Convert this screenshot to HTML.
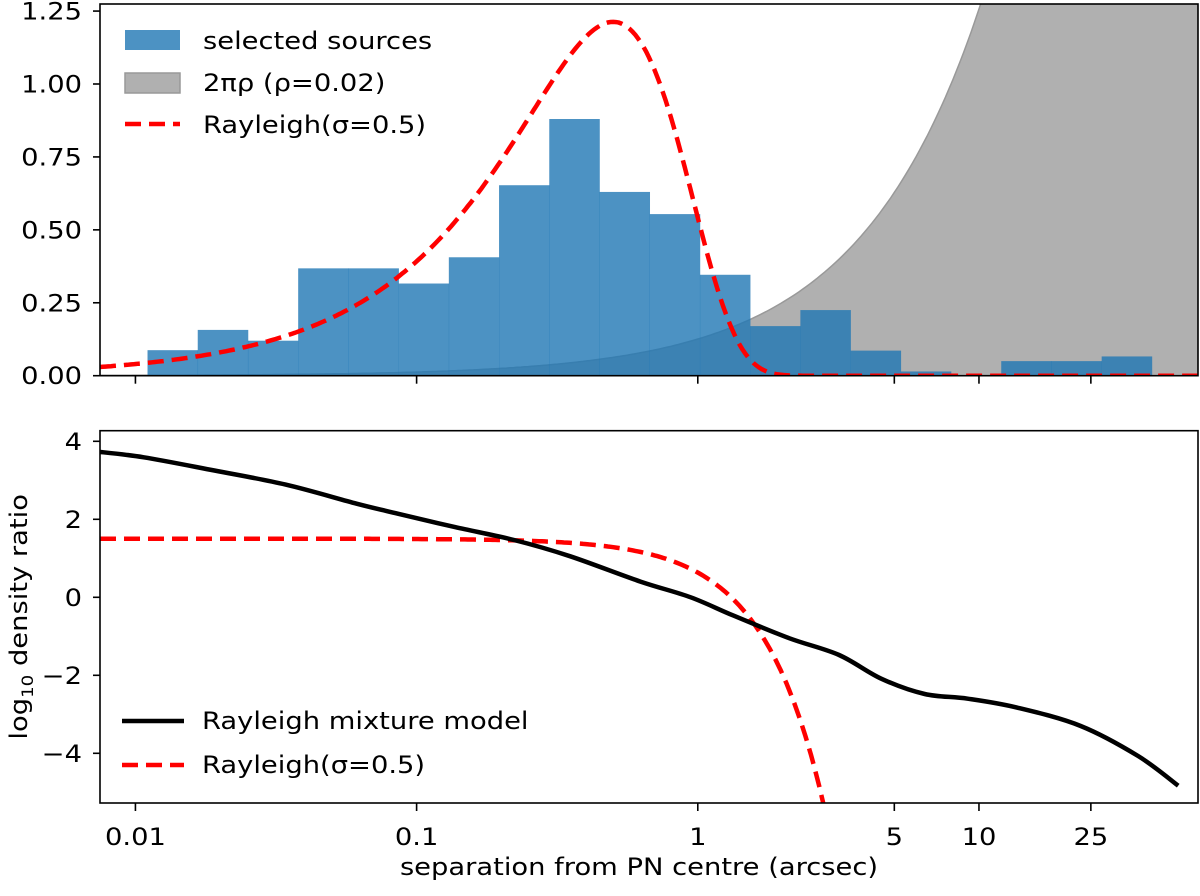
<!DOCTYPE html>
<html><head><meta charset="utf-8"><style>
body{margin:0;background:#fff}
svg text{font-family:"DejaVu Sans","Liberation Sans",sans-serif;fill:#000}
</style></head><body>
<svg id="c" width="1200" height="891" viewBox="0 0 1200 891" xmlns="http://www.w3.org/2000/svg"></svg>
<script>
// ---- data ----
const binStartLog = -1.957;           // log10 of first bin edge
const binWidthLog = 0.1786;           // bin width in decades
const histValues = [0.0875,0.157,0.12,0.368,0.368,0.316,0.406,0.653,0.88,0.63,0.554,0.346,0.17,0.225,0.086,0.0145,0,0.05,0.05,0.066];
const rho = 0.02;
const sigma = 0.5;
const mixR = [0.0072,0.0107,0.0191,0.0342,0.0612,0.0861,0.137,0.222,0.352,0.627,0.944,1.34,2.12,3.18,4.50,6.41,9.12,13.7,23.0,36.8,51.1];
const mixV = [3.74,3.59,3.25,2.89,2.40,2.14,1.80,1.47,1.05,0.40,0.0,-0.47,-1.05,-1.48,-2.09,-2.48,-2.60,-2.83,-3.30,-4.07,-4.83];
const topTicks = [0,0.25,0.5,0.75,1.0,1.25];
const topTickLabels = ["0.00","0.25","0.50","0.75","1.00","1.25"];
const botTicks = [-4,-2,0,2,4];
const botTickLabels = ["\u22124","\u22122","0","2","4"];
const xTicks = [0.01,0.1,1,5,10,25];
const xTickLabels = ["0.01","0.1","1","5","10","25"];

// ---- axes ----
const X0=100, X1=1198, LMIN=-2.126, LMAX=1.779;
const xs = r => X0 + (Math.log10(r)-LMIN)/(LMAX-LMIN)*(X1-X0);
const xl = l => X0 + (l-LMIN)/(LMAX-LMIN)*(X1-X0);
const T0=375.7, TPX=291.7;
const yt = v => T0 - v*TPX;
const TTOP=4;
const B0=597.3, BPX=39.0;
const yb = v => B0 - v*BPX;
const BTOP=430.7, BBOT=803;
const FS=24, SX=1.14;

const svg=document.getElementById('c');
const NS='http://www.w3.org/2000/svg';
function mk(tag,attrs,parent){const e=document.createElementNS(NS,tag);for(const k in attrs)e.setAttribute(k,attrs[k]);(parent||svg).appendChild(e);return e;}
function txt(x,y,s,anchor,parent){const t=mk('text',{x:0,y:0,'text-anchor':anchor||'start','font-size':FS,transform:`translate(${x},${y}) scale(${SX},1)`},parent);t.textContent=s;return t;}

const defs=mk('defs',{});
const c1=mk('clipPath',{id:'clipTop'},defs); mk('rect',{x:X0,y:TTOP,width:X1-X0,height:T0-TTOP},c1);
const c2=mk('clipPath',{id:'clipBot'},defs); mk('rect',{x:X0,y:BTOP,width:X1-X0,height:BBOT-BTOP},c2);

// ---- top panel ----
const gTop=mk('g',{'clip-path':'url(#clipTop)'});


let d='M'+X0+','+T0;
for(let i=0;i<=300;i++){const l=LMIN+(LMAX-LMIN)*i/300;const r=Math.pow(10,l);d+=' L'+xl(l).toFixed(1)+','+yt(2*Math.PI*rho*r).toFixed(1);}
d+=' L'+X1+','+T0+' Z';
const bg=mk('path',{d:d,fill:'#b0b0b0',stroke:'#999',"stroke-width":1.5},gTop);


histValues.forEach((v,i)=>{
  const l0=binStartLog+i*binWidthLog, l1=l0+binWidthLog;
  if(v<=0) return;
  const r=mk('rect',{x:xl(l0),y:yt(v),width:xl(l1)-xl(l0)+0.3,height:T0-yt(v),fill:'#1f77b4','fill-opacity':0.8},gTop);
  
  
});
let pr='';
for(let i=0;i<=400;i++){const l=LMIN+(LMAX-LMIN)*i/400;const r=Math.pow(10,l);const v=r/(sigma*sigma)*Math.exp(-r*r/(2*sigma*sigma));pr+=(i?' L':'M')+xl(l).toFixed(1)+','+yt(v).toFixed(1);}
const ray=mk('path',{d:pr,fill:'none',stroke:'#ff0000','stroke-width':4.5,'stroke-dasharray':'16,8'},gTop);



const f1=mk('rect',{x:X0,y:TTOP,width:X1-X0,height:T0-TTOP,fill:'none',stroke:'#000','stroke-width':1.6});


topTicks.forEach((t,i)=>{
  mk('line',{x1:X0-7,x2:X0,y1:yt(t),y2:yt(t),stroke:'#000','stroke-width':1.6});
  const tx=txt(X0-18,yt(t)+8.5,topTickLabels[i],'end');
  
  
});
xTicks.forEach(t=>{mk('line',{x1:xs(t),x2:xs(t),y1:T0,y2:T0+8,stroke:'#000','stroke-width':1.6});});

const lg1=mk('g',{});


mk('rect',{x:125,y:30,width:55,height:20,fill:'#1f77b4','fill-opacity':0.8},lg1);
mk('rect',{x:125,y:73,width:55,height:20,fill:'#b0b0b0',stroke:'#999','stroke-width':1.5},lg1);
mk('line',{x1:125,x2:180,y1:124,y2:124,stroke:'#ff0000','stroke-width':4.5,'stroke-dasharray':'16,8'},lg1);
[['selected sources',49],['2\u03c0\u03c1 (\u03c1=0.02)',91],['Rayleigh(\u03c3=0.5)',133]].forEach(([s,y])=>{
  const t=txt(203,y,s,'start',lg1);
  
  
});

// ---- bottom panel ----
const gBot=mk('g',{'clip-path':'url(#clipBot)'});


let pb='';
for(let i=0;i<=400;i++){const l=LMIN+(LMAX-LMIN)*i/400;const r=Math.pow(10,l);const v=Math.log10((1/(sigma*sigma))*Math.exp(-r*r/(2*sigma*sigma))/(2*Math.PI*rho));pb+=(i?' L':'M')+xl(l).toFixed(1)+','+Math.min(yb(v),BBOT+50).toFixed(1);}
const ray2=mk('path',{d:pb,fill:'none',stroke:'#ff0000','stroke-width':4.5,'stroke-dasharray':'16,8'},gBot);


function smooth(pts){let s='M'+pts[0][0]+','+pts[0][1];for(let i=0;i<pts.length-1;i++){const p0=pts[Math.max(i-1,0)],p1=pts[i],p2=pts[i+1],p3=pts[Math.min(i+2,pts.length-1)];const c1x=p1[0]+(p2[0]-p0[0])/6,c1y=p1[1]+(p2[1]-p0[1])/6,c2x=p2[0]-(p3[0]-p1[0])/6,c2y=p2[1]-(p3[1]-p1[1])/6;s+=` C${c1x.toFixed(1)},${c1y.toFixed(1)} ${c2x.toFixed(1)},${c2y.toFixed(1)} ${p2[0].toFixed(1)},${p2[1].toFixed(1)}`;}return s;}
const mpts=mixR.map((r,i)=>[xs(r),yb(mixV[i])]);
const mix=mk('path',{d:smooth(mpts),fill:'none',stroke:'#000','stroke-width':4.5},gBot);



const f2=mk('rect',{x:X0,y:BTOP,width:X1-X0,height:BBOT-BTOP,fill:'none',stroke:'#000','stroke-width':1.6});


botTicks.forEach((t,i)=>{
  mk('line',{x1:X0-7,x2:X0,y1:yb(t),y2:yb(t),stroke:'#000','stroke-width':1.6});
  const tx=txt(X0-18,yb(t)+8.5,botTickLabels[i],'end');
  
  
});
xTicks.forEach((t,i)=>{
  mk('line',{x1:xs(t),x2:xs(t),y1:BBOT,y2:BBOT+8,stroke:'#000','stroke-width':1.6});
  const tx=txt(xs(t),BBOT+42,xTickLabels[i],'middle');
  
  
});
const xt=txt((X0+X1)/2-10,875,'separation from PN centre (arcsec)','middle');


const yl=mk('text',{x:0,y:0,'text-anchor':'middle','font-size':FS,transform:`translate(27,${(BTOP+BBOT)/2}) rotate(-90) scale(${SX},1)`});
yl.innerHTML='log<tspan font-size="16" dy="6">10</tspan><tspan dy="-6"> density ratio</tspan>';



const lg2=mk('g',{});


mk('line',{x1:122,x2:184,y1:721,y2:721,stroke:'#000','stroke-width':4.5},lg2);
mk('line',{x1:122,x2:184,y1:765,y2:765,stroke:'#ff0000','stroke-width':4.5,'stroke-dasharray':'16,8'},lg2);
[['Rayleigh mixture model',729],['Rayleigh(\u03c3=0.5)',773]].forEach(([s,y])=>{
  const t=txt(202,y,s,'start',lg2);
  
  
});
</script>
</body></html>
